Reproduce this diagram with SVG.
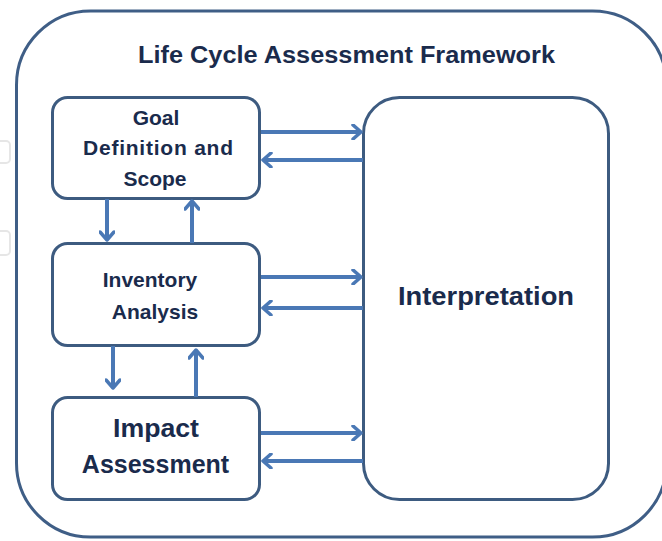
<svg xmlns="http://www.w3.org/2000/svg" width="662" height="541" viewBox="0 0 662 541">
  <defs>
    <style>
      .box { fill: #ffffff; stroke: #3d5b80; stroke-width: 3; }
      .lbl { font-family: "Liberation Sans", Arial, sans-serif; font-weight: bold; fill: #1a2b4c; text-anchor: middle; }
      .arr { stroke: #4a78b5; stroke-width: 4; fill: none; }
    </style>
    <marker id="head" markerUnits="userSpaceOnUse" markerWidth="14" markerHeight="16" refX="10" refY="8" orient="auto">
      <path d="M2,1 L10,8 L2,15" fill="none" stroke="#4a78b5" stroke-width="3.5" stroke-linecap="round" stroke-linejoin="round"/>
    </marker>
  </defs>

  <rect x="0" y="0" width="662" height="541" fill="#ffffff"/>

  <!-- faint background artefacts at left edge -->
  <rect x="-20" y="141" width="30" height="22" rx="4" fill="none" stroke="#e6e6e6" stroke-width="2"/>
  <rect x="-20" y="231" width="30" height="24" rx="4" fill="none" stroke="#e6e6e6" stroke-width="2"/>

  <g id="framework">
    <rect x="16.5" y="11" width="650" height="526" rx="74" ry="74" fill="#ffffff" stroke="#3f5e86" stroke-width="3"/>
    <text class="lbl" x="346.5" y="63" font-size="23" textLength="417" lengthAdjust="spacingAndGlyphs">Life Cycle Assessment Framework</text>
  </g>

  <g id="goal">
    <rect class="box" x="52.5" y="97.5" width="207" height="101" rx="15"/>
    <text class="lbl" x="156" y="125" font-size="21">Goal</text>
    <text class="lbl" x="158" y="155" font-size="21" textLength="150" lengthAdjust="spacing">Definition and</text>
    <text class="lbl" x="155" y="186" font-size="21">Scope</text>
  </g>

  <g id="inventory">
    <rect class="box" x="52.5" y="243.5" width="207" height="102" rx="15"/>
    <text class="lbl" x="150" y="287" font-size="21">Inventory</text>
    <text class="lbl" x="155" y="319" font-size="21">Analysis</text>
  </g>

  <g id="impact">
    <rect class="box" x="52.5" y="397.5" width="207" height="102" rx="15"/>
    <text class="lbl" x="156" y="437" font-size="25" textLength="86" lengthAdjust="spacingAndGlyphs">Impact</text>
    <text class="lbl" x="155.5" y="473" font-size="25">Assessment</text>
  </g>

  <g id="interpretation">
    <rect class="box" x="363.5" y="97.5" width="245" height="402" rx="36"/>
    <text class="lbl" x="486" y="305" font-size="25" textLength="176" lengthAdjust="spacingAndGlyphs">Interpretation</text>
  </g>

  <g id="connectors">
    <!-- goal <-> interpretation -->
    <line class="arr" x1="261" y1="132" x2="361" y2="132" marker-end="url(#head)"/>
    <line class="arr" x1="363" y1="160" x2="263" y2="160" marker-end="url(#head)"/>
    <!-- inventory <-> interpretation -->
    <line class="arr" x1="261" y1="277" x2="361" y2="277" marker-end="url(#head)"/>
    <line class="arr" x1="363" y1="308" x2="263" y2="308" marker-end="url(#head)"/>
    <!-- impact <-> interpretation -->
    <line class="arr" x1="261" y1="433" x2="361" y2="433" marker-end="url(#head)"/>
    <line class="arr" x1="363" y1="461" x2="263" y2="461" marker-end="url(#head)"/>
    <!-- goal <-> inventory -->
    <line class="arr" x1="107" y1="199" x2="107" y2="240" marker-end="url(#head)"/>
    <line class="arr" x1="192" y1="243" x2="192" y2="201" marker-end="url(#head)"/>
    <!-- inventory <-> impact -->
    <line class="arr" x1="113" y1="346" x2="113" y2="388" marker-end="url(#head)"/>
    <line class="arr" x1="196" y1="397" x2="196" y2="350" marker-end="url(#head)"/>
  </g>
</svg>
